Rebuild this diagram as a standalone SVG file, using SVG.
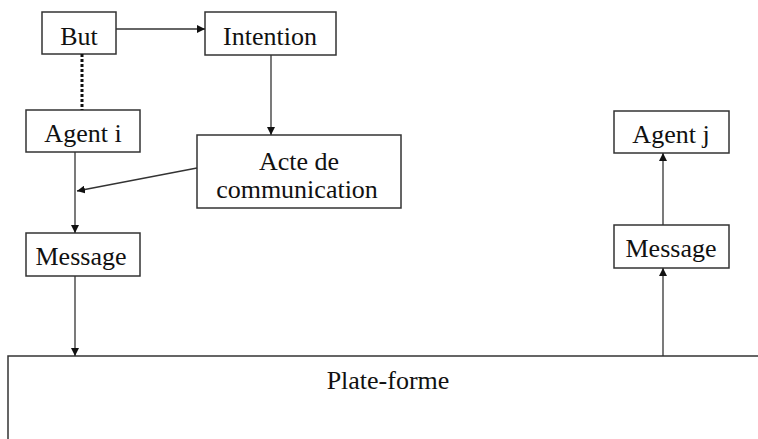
<svg xmlns="http://www.w3.org/2000/svg" width="758" height="439" viewBox="0 0 758 439">
<defs>
<style>
.box{fill:#fff;stroke:#333;stroke-width:1.5}
.lbl{font-family:"Liberation Serif","Times New Roman",serif;font-size:26px;fill:#111;text-anchor:middle}
.con{stroke:#333;stroke-width:1.3;fill:none}
</style>
<marker id="ah" viewBox="0 0 10 10" refX="10" refY="5" markerWidth="8" markerHeight="8" markerUnits="userSpaceOnUse" orient="auto">
<path d="M0,0 L10,5 L0,10 z" fill="#111"/>
</marker>
</defs>
<rect width="758" height="439" fill="#fff"/>
<g id="plateforme">
<rect class="box" x="8" y="356" width="760" height="100"/>
<text class="lbl" x="388" y="389">Plate-forme</text>
</g>
<g id="but">
<rect class="box" x="42" y="12" width="74" height="42"/>
<text class="lbl" x="79" y="45">But</text>
</g>
<g id="intention">
<rect class="box" x="205" y="12" width="131" height="43"/>
<text class="lbl" x="270" y="45">Intention</text>
</g>
<g id="agent-i">
<rect class="box" x="26" y="110" width="114" height="42"/>
<text class="lbl" x="83" y="142">Agent i</text>
</g>
<g id="acte">
<rect class="box" x="197" y="135" width="204" height="73"/>
<text class="lbl" x="299" y="170">Acte de</text>
<text class="lbl" x="297" y="198">communication</text>
</g>
<g id="message-i">
<rect class="box" x="26" y="233" width="114" height="43"/>
<text class="lbl" x="81" y="265">Message</text>
</g>
<g id="agent-j">
<rect class="box" x="614" y="111" width="115" height="42"/>
<text class="lbl" x="671" y="143">Agent j</text>
</g>
<g id="message-j">
<rect class="box" x="614" y="225" width="115" height="43"/>
<text class="lbl" x="671" y="257">Message</text>
</g>
<g id="connectors">
<line class="con" x1="116" y1="29" x2="205" y2="29" marker-end="url(#ah)"/>
<line x1="82" y1="54" x2="82" y2="110" stroke="#111" stroke-width="3" stroke-dasharray="3,2"/>
<line class="con" x1="271" y1="55" x2="271" y2="135" marker-end="url(#ah)"/>
<line class="con" x1="197" y1="168" x2="77" y2="191" marker-end="url(#ah)"/>
<line class="con" x1="75" y1="152" x2="75" y2="233" marker-end="url(#ah)"/>
<line class="con" x1="75" y1="276" x2="75" y2="356" marker-end="url(#ah)"/>
<line class="con" x1="663" y1="356" x2="663" y2="268" marker-end="url(#ah)"/>
<line class="con" x1="663" y1="225" x2="663" y2="153" marker-end="url(#ah)"/>
</g>
</svg>
